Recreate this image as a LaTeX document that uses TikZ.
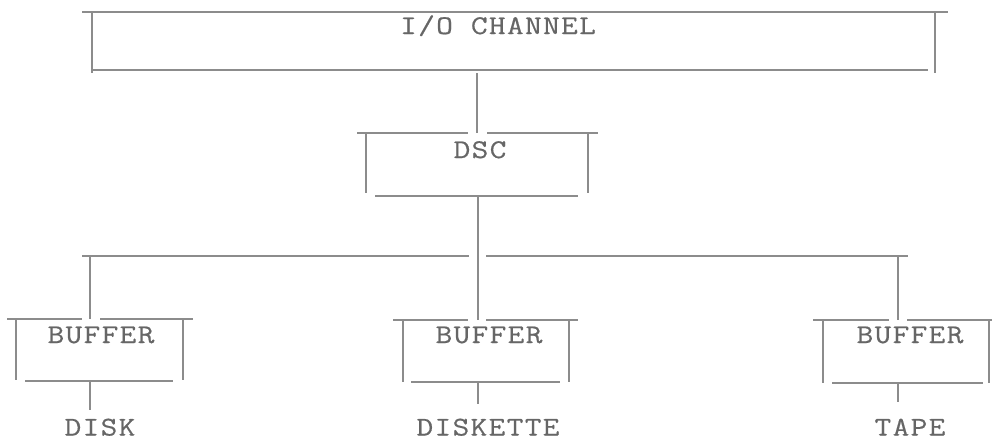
\documentclass[tikz,border=0pt]{standalone}
\usepackage{fontspec}
\newfontfamily\tw{Latin Modern Mono}[FakeStretch=1.2,LetterSpace=5,FakeBold=0.5]
\definecolor{inkline}{HTML}{8C8C8C}
\definecolor{inktext}{HTML}{666666}
\begin{document}
\begin{tikzpicture}[x=1pt,y=-1pt,
  ln/.style={draw=inkline, line width=1.5pt},
  area/.style={rectangle, draw=none, inner sep=0pt, minimum width=#1},
  txt/.style={font=\tw\fontsize{27}{29}\selectfont, text=inktext, inner sep=0pt, anchor=base}]
\useasboundingbox (0,0) rectangle (992,440);

% invisible box areas (between the vertical sides)
\node[area=843pt, minimum height=61pt] (io)  at (513.5,42.5) {};
\node[area=222pt, minimum height=63pt] (dsc) at (477,164.5) {};
\node[area=167pt, minimum height=62pt] (b1)  at (99.5,350) {};
\node[area=166pt, minimum height=62pt] (b2)  at (486,351) {};
\node[area=166pt, minimum height=63pt] (b3)  at (906,351.5) {};

% texts
\node[txt] (iot) at (498,34) {I/O CHANNEL};
\node[txt] (dsct) at (480,158) {DSC};
\node[txt] (b1t) at (101,343) {BUFFER};
\node[txt] (b2t) at (489,343) {BUFFER};
\node[txt] (b3t) at (910,343) {BUFFER};
\node[txt] (disk) at (100,435.5) {DISK};
\node[txt] (diskette) at (488,435.5) {DISKETTE};
\node[txt] (tape) at (910,435.5) {TAPE};

% junction coordinates
\coordinate (jm) at (478,256);
\coordinate (jl) at (90,256);
\coordinate (jr) at (898,256);
\coordinate (busl) at (82,256);
\coordinate (busr) at (908,256);

% I/O CHANNEL box
\draw[ln] (82,12) -- (948,12);
\draw[ln] (92,12) -- (92,73);
\draw[ln] (935,12) -- (935,73);
\draw[ln] (92,70) -- (928,70);

% DSC box
\draw[ln] (357,133) -- (468,133);
\draw[ln] (487,133) -- (598,133);
\draw[ln] (366,133) -- (366,193);
\draw[ln] (588,133) -- (588,193);
\draw[ln] (375,196) -- (578,196);

% BUFFER boxes
\draw[ln] (7,319) -- (82,319);
\draw[ln] (100,319) -- (193,319);
\draw[ln] (16,319) -- (16,380);
\draw[ln] (183,319) -- (183,380);
\draw[ln] (25,381) -- (173,381);

\draw[ln] (393,320) -- (468,320);
\draw[ln] (486,320) -- (578,320);
\draw[ln] (403,320) -- (403,382);
\draw[ln] (569,320) -- (569,382);
\draw[ln] (411,382) -- (560,382);

\draw[ln] (813,320) -- (889,320);
\draw[ln] (907,320) -- (992,320);
\draw[ln] (823,320) -- (823,383);
\draw[ln] (989,320) -- (989,383);
\draw[ln] (832,383) -- (983,383);

% bus
\draw[ln] (busl) -- (469,256);
\draw[ln] (486,256) -- (busr);

% connectors
\draw[ln] (io.south -| dsc.north) -- (dsc.north);
\draw[ln] (dsc.south -| jm) -- (b2.north -| jm);
\draw[ln] (jl) -- (b1.north -| jl);
\draw[ln] (jr) -- (b3.north -| jr);
\draw[ln, shorten >=8pt] (b1.south -| jl) -- (disk.north -| jl);
\draw[ln, shorten >=14pt] (b2.south -| jm) -- (diskette.north -| jm);
\draw[ln, shorten >=16pt] (b3.south -| jr) -- (tape.north -| jr);
\end{tikzpicture}
\end{document}
